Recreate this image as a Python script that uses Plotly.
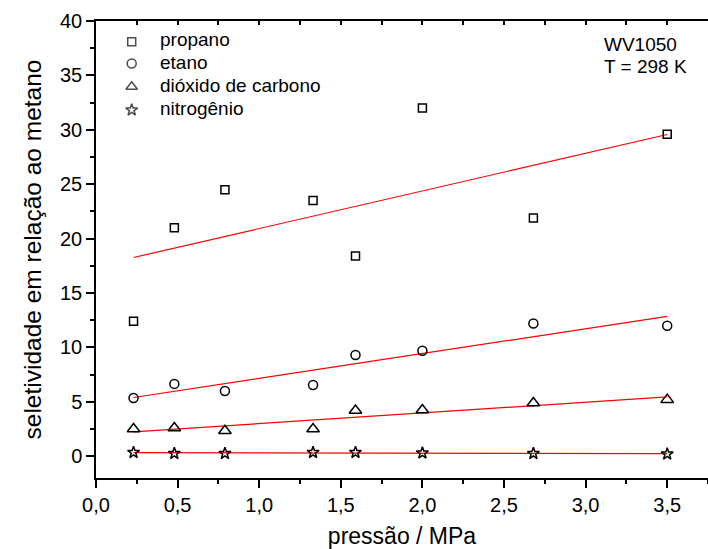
import numpy as np
import plotly.graph_objects as go

# pressure points (MPa)
pressao = [0.23, 0.48, 0.79, 1.33, 1.59, 2.00, 2.68, 3.50]

# selectivity relative to methane
propano = [12.4, 21.0, 24.5, 23.5, 18.4, 32.0, 21.9, 29.6]
etano = [5.35, 6.65, 6.0, 6.55, 9.3, 9.7, 12.2, 12.0]
dioxido = [2.5, 2.6, 2.35, 2.5, 4.2, 4.25, 4.9, 5.2]
nitrogenio = [0.35, 0.25, 0.25, 0.35, 0.35, 0.3, 0.25, 0.2]

nomes = ["propano", "etano", "dióxido de carbono", "nitrogênio"]
valores = [propano, etano, dioxido, nitrogenio]
simbolos = ["square-open", "circle-open", "triangle-up-open", "star-open"]
tamanhos = [8, 9, 11, 9]

FONT = "Liberation Sans, Arial, sans-serif"

# plot area in pixels (for placing the legend block)
L, R, T, B = 96, 708, 21, 478


def px_x(v):
    return (v - L) / (R - L)


def px_y(v):
    return 1 - (v - T) / (B - T)


fig = go.Figure()

# linear least-squares fit for each gas, drawn over the measured range
xfit = np.array([min(pressao), max(pressao)])
for vals in valores:
    slope, intercept = np.polyfit(pressao, vals, 1)
    fig.add_trace(go.Scatter(
        x=xfit, y=slope * xfit + intercept, mode="lines",
        line=dict(color="red", width=1.2), showlegend=False, hoverinfo="skip",
    ))

for name, vals, sym, size in zip(nomes, valores, simbolos, tamanhos):
    fig.add_trace(go.Scatter(
        x=pressao, y=vals, mode="markers", name=name, showlegend=False,
        marker=dict(symbol=sym, size=size, color="black",
                    line=dict(color="black", width=1.5)),
    ))

# legend block: key symbols on an overlay axis spanning the plot area
leg_sym_y = [41.7, 63.5, 86.8, 110.0]
leg_txt_y = [39.3, 62.4, 85.6, 108.8]
leg_sizes = [8, 9, 10, 9]
fig.add_trace(go.Scatter(
    x=[px_x(131.7)] * 4, y=[px_y(v) for v in leg_sym_y],
    xaxis="x3", yaxis="y3", mode="markers", showlegend=False, hoverinfo="skip",
    marker=dict(symbol=simbolos, size=leg_sizes, color="black",
                line=dict(color="black", width=1.5)),
))

# top frame with inward ticks
fig.add_trace(go.Scatter(x=[], y=[], xaxis="x2", showlegend=False, hoverinfo="skip"))

annotations = [
    dict(text=n, xref="paper", yref="paper", x=px_x(158.3), y=px_y(ty),
         xanchor="left", yanchor="middle", showarrow=False, font=dict(size=19))
    for n, ty in zip(nomes, leg_txt_y)
]
annotations += [
    dict(text="WV1050", xref="paper", yref="paper", x=px_x(601.7), y=px_y(44),
         xanchor="left", yanchor="middle", showarrow=False, font=dict(size=19)),
    dict(text="T = 298 K", xref="paper", yref="paper", x=px_x(601.7), y=px_y(66.5),
         xanchor="left", yanchor="middle", showarrow=False, font=dict(size=19)),
]

fig.update_layout(
    width=708, height=549,
    margin=dict(l=L, r=708 - R, t=T, b=549 - B),
    paper_bgcolor="white", plot_bgcolor="white",
    separators=",.",
    font=dict(family=FONT, size=19, color="black"),
    showlegend=False,
    xaxis=dict(
        range=[0, 3.75], tick0=0, dtick=0.5, tickformat=".1f",
        showgrid=False, zeroline=False,
        showline=True, linecolor="black", linewidth=1.5,
        ticks="outside", ticklen=8, tickwidth=1.5, tickcolor="black",
        minor=dict(ticks="outside", ticklen=4, tickwidth=1.5, tickcolor="black", dtick=0.25, tick0=0),
        tickfont=dict(size=20),
        title=dict(text="pressão / MPa", font=dict(size=23), standoff=14),
    ),
    xaxis2=dict(
        range=[0, 3.75], overlaying="x", side="top", anchor="y",
        tick0=0, dtick=0.5, showticklabels=False,
        showgrid=False, zeroline=False,
        showline=True, linecolor="black", linewidth=1.5,
        ticks="inside", ticklen=4, tickwidth=1.5, tickcolor="black",
        minor=dict(ticks="inside", ticklen=4, tickwidth=1.5, tickcolor="black", dtick=0.25, tick0=0),
    ),
    xaxis3=dict(range=[0, 1], overlaying="x", anchor="y3", visible=False,
                showgrid=False, zeroline=False),
    yaxis3=dict(range=[0, 1], overlaying="y", anchor="x3", visible=False,
                showgrid=False, zeroline=False),
    yaxis=dict(
        range=[-2, 40], tick0=0, dtick=5,
        showgrid=False, zeroline=False,
        showline=True, linecolor="black", linewidth=1.5,
        ticks="outside", ticklen=8, tickwidth=1.5, tickcolor="black",
        minor=dict(ticks="outside", ticklen=4, tickwidth=1.5, tickcolor="black", dtick=2.5, tick0=0),
        tickfont=dict(size=20),
        title=dict(text="seletividade em relação ao metano", font=dict(size=24.5), standoff=11),
    ),
    annotations=annotations,
)

fig.write_html("out.html")
